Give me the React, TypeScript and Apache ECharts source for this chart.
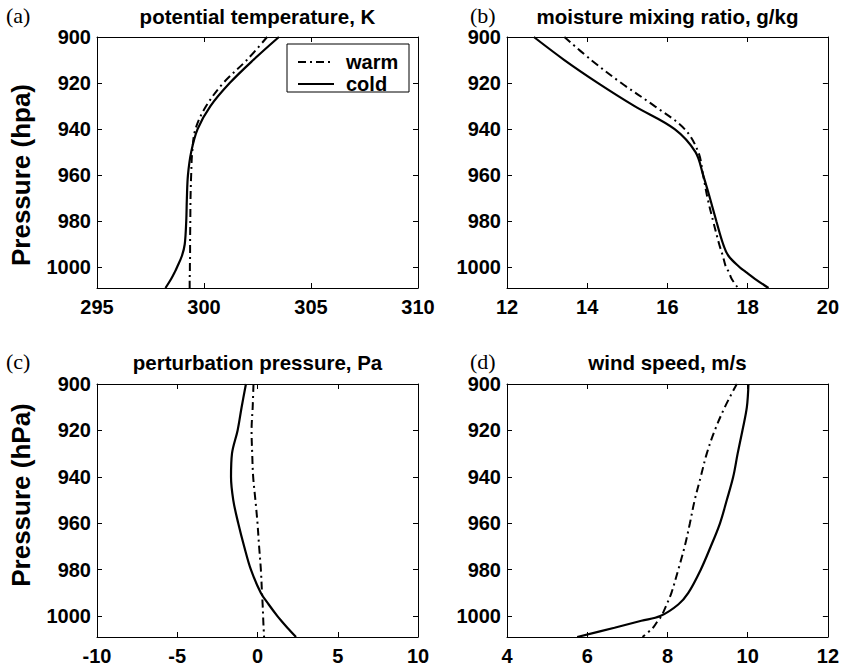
import React, { useEffect, useRef } from "react";
import * as echarts from "echarts";

// Pressure levels (hPa) shared by every profile
const pressureLevels = [900, 910, 920, 930, 940, 950, 960, 970, 980, 990, 995, 1000, 1002, 1005, 1009];

// (a) potential temperature, K
const thetaWarm = [302.95, 302.0, 300.9, 300.1, 299.6, 299.45, 299.4, 299.37, 299.36, 299.35, 299.35, 299.34, 299.34, 299.33, 299.33];
const thetaCold = [303.5, 302.3, 301.2, 300.3, 299.7, 299.4, 299.25, 299.2, 299.17, 299.1, 298.97, 298.74, 298.64, 298.47, 298.2];

// (b) moisture mixing ratio, g/kg
const qWarm = [13.43, 14.1, 14.85, 15.68, 16.43, 16.77, 16.89, 17.0, 17.14, 17.29, 17.38, 17.46, 17.53, 17.6, 17.76];
const qCold = [12.67, 13.43, 14.27, 15.18, 16.18, 16.7, 16.89, 17.06, 17.22, 17.39, 17.52, 17.8, 17.95, 18.18, 18.52];

// (c) perturbation pressure, Pa
const ppWarm = [-0.25, -0.3, -0.37, -0.33, -0.27, -0.13, 0.0, 0.1, 0.21, 0.28, 0.32, 0.35, 0.36, 0.38, 0.41];
const ppCold = [-0.72, -0.99, -1.24, -1.59, -1.65, -1.51, -1.2, -0.83, -0.41, 0.21, 0.7, 1.24, 1.48, 1.86, 2.4];

// (d) wind speed, m/s
const windWarm = [9.73, 9.43, 9.18, 8.98, 8.83, 8.68, 8.56, 8.43, 8.27, 8.1, 7.98, 7.85, 7.76, 7.64, 7.38];
const windCold = [10.02, 9.98, 9.87, 9.75, 9.64, 9.48, 9.31, 9.08, 8.83, 8.52, 8.27, 7.82, 7.35, 6.68, 5.75];

const panelTitles = ["potential temperature, K", "moisture mixing ratio, g/kg", "perturbation pressure, Pa", "wind speed, m/s"];
const panelLetters = ["(a)", "(b)", "(c)", "(d)"];
const xRanges = [
  [295, 310, 5],
  [12, 20, 2],
  [-10, 10, 5],
  [4, 12, 2],
];
const yTickRange = [900, 1009, 20];
const seriesNames = ["warm", "cold"];

const FONT = "Liberation Sans";

export default function App() {
  const ref = useRef<HTMLDivElement>(null);

  useEffect(() => {
    if (!ref.current) return;
    const chart = echarts.init(ref.current, undefined, { renderer: "svg" });

    const grids = [
      { left: 97, top: 37, width: 321, height: 251 },
      { left: 507, top: 37, width: 321, height: 251 },
      { left: 97, top: 384, width: 321, height: 253 },
      { left: 507, top: 384, width: 321, height: 253 },
    ];

    const axisLine = { show: true, onZero: false, lineStyle: { color: "#000", width: 1 } };
    const axisTick = { show: true, inside: true, length: 5, lineStyle: { color: "#000", width: 1 } };
    const labelStyle = {
      color: "#000",
      fontSize: 20,
      fontWeight: "bold",
      fontFamily: FONT,
      formatter: (v: number) => String(v),
    };

    const xAxis: any[] = [];
    const yAxis: any[] = [];
    grids.forEach((_, i) => {
      const [mn, mx, iv] = xRanges[i];
      ["bottom", "top"].forEach((pos, k) => {
        xAxis.push({
          type: "value",
          gridIndex: i,
          position: pos,
          min: mn,
          max: mx,
          interval: iv,
          axisLine,
          axisTick,
          splitLine: { show: false },
          axisLabel: k === 0 ? { ...labelStyle, margin: 9, showMinLabel: true, showMaxLabel: true } : { show: false },
        });
      });
      ["left", "right"].forEach((pos, k) => {
        yAxis.push({
          type: "value",
          gridIndex: i,
          position: pos,
          inverse: true,
          min: yTickRange[0],
          max: yTickRange[1],
          interval: yTickRange[2],
          axisLine,
          axisTick,
          splitLine: { show: false },
          axisLabel: k === 0 ? { ...labelStyle, margin: 6, showMinLabel: true, showMaxLabel: false } : { show: false },
        });
      });
    });

    const profiles = [
      [thetaWarm, thetaCold],
      [qWarm, qCold],
      [ppWarm, ppCold],
      [windWarm, windCold],
    ];

    const series: any[] = [];
    profiles.forEach((pair, i) => {
      pair.forEach((vals, k) => {
        series.push({
          type: "line",
          name: seriesNames[k],
          xAxisIndex: 2 * i,
          yAxisIndex: 2 * i,
          data: pressureLevels.map((p, j) => [vals[j], p]),
          symbol: "none",
          showSymbol: false,
          smooth: 0.35,
          color: "#000",
          itemStyle: { color: "#000" },
          lineStyle:
            k === 0
              ? { color: "#000", width: 2, type: [8, 4, 2, 4] }
              : { color: "#000", width: 2.2, type: "solid" },
          z: 3,
        });
      });
    });

    const titleCenters = [
      [257.5, 16],
      [667.5, 16],
      [257.5, 362],
      [667.5, 362],
    ];
    const letterPos = [
      [6, 15],
      [470, 15],
      [6, 361],
      [470, 361],
    ];

    const graphic: any[] = [];
    panelTitles.forEach((t, i) => {
      graphic.push({
        type: "text",
        x: titleCenters[i][0],
        y: titleCenters[i][1],
        style: {
          text: t,
          fill: "#000",
          fontSize: 20.5,
          fontWeight: "bold",
          fontFamily: FONT,
          align: "center",
          verticalAlign: "middle",
        },
      });
    });
    panelLetters.forEach((t, i) => {
      graphic.push({
        type: "text",
        x: letterPos[i][0],
        y: letterPos[i][1],
        style: {
          text: t,
          fill: "#000",
          fontSize: 22,
          fontFamily: "Liberation Serif",
          align: "left",
          verticalAlign: "middle",
        },
      });
    });
    graphic.push({
      type: "text",
      x: 21,
      y: 175,
      rotation: Math.PI / 2,
      style: {
        text: "Pressure (hpa)",
        fill: "#000",
        fontSize: 26,
        fontWeight: "bold",
        fontFamily: FONT,
        align: "center",
        verticalAlign: "middle",
      },
    });
    graphic.push({
      type: "text",
      x: 21,
      y: 495,
      rotation: Math.PI / 2,
      style: {
        text: "Pressure (hPa)",
        fill: "#000",
        fontSize: 26,
        fontWeight: "bold",
        fontFamily: FONT,
        align: "center",
        verticalAlign: "middle",
      },
    });
    // legend frame
    graphic.push({
      type: "rect",
      z: 5,
      shape: { x: 287, y: 44, width: 122, height: 48 },
      style: { fill: "#fff", stroke: "#000", lineWidth: 1 },
    });

    chart.setOption({
      animation: false,
      backgroundColor: "#fff",
      grid: grids,
      xAxis,
      yAxis,
      series,
      graphic,
      legend: {
        data: seriesNames,
        orient: "vertical",
        left: 297,
        top: 52,
        padding: 0,
        z: 10,
        itemWidth: 36,
        itemHeight: 12,
        itemGap: 2,
        selectedMode: false,
        itemStyle: { opacity: 0 },
        textStyle: { color: "#000", fontSize: 20, fontWeight: "bold", fontFamily: FONT, lineHeight: 19, padding: [0, 0, 0, 7] },
      },
    });

    return () => chart.dispose();
  }, []);

  return <div ref={ref} style={{ position: "fixed", left: 0, top: 0, width: 842, height: 668 }} />;
}
